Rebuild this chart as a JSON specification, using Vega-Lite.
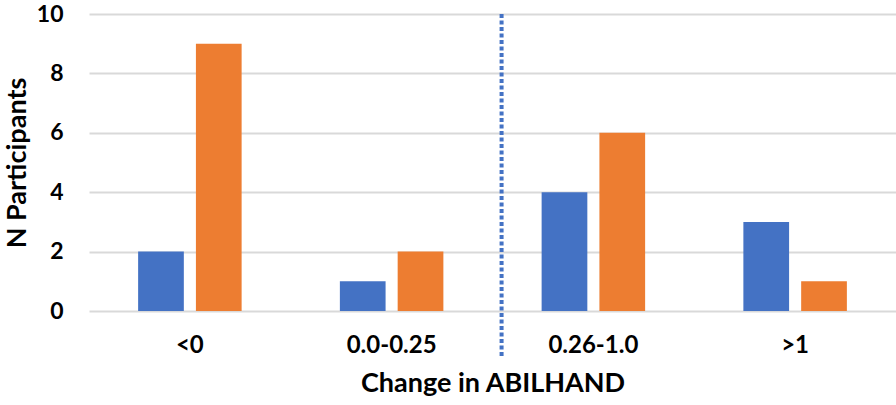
{
  "$schema": "https://vega.github.io/schema/vega-lite/v6.json",
  "autosize": "none",
  "width": 807,
  "height": 297,
  "padding": {"left": 89, "top": 14, "right": 0, "bottom": 94},
  "background": "white",
  "config": {
    "view": {"stroke": null},
    "font": "Lato",
    "axis": {"labelFont": "Lato", "titleFont": "Lato", "labelFontWeight": "bold", "titleFontWeight": "bold", "labelColor": "black", "titleColor": "black"}
  },
  "datasets": {
    "bars": [
      {"change": "<0", "group": "A", "n": 2},
      {"change": "<0", "group": "B", "n": 9},
      {"change": "0.0-0.25", "group": "A", "n": 1},
      {"change": "0.0-0.25", "group": "B", "n": 2},
      {"change": "0.26-1.0", "group": "A", "n": 4},
      {"change": "0.26-1.0", "group": "B", "n": 6},
      {"change": ">1", "group": "A", "n": 3},
      {"change": ">1", "group": "B", "n": 1}
    ],
    "divider": [
      {"change": "0.26-1.0", "top": 10, "bottom": -1.55}
    ]
  },
  "layer": [
    {
      "data": {"name": "bars"},
      "mark": {"type": "bar"},
      "encoding": {
        "x": {
          "field": "change", "type": "nominal",
          "scale": {"domain": ["<0", "0.0-0.25", "0.26-1.0", ">1"], "paddingInner": 0, "paddingOuter": 0},
          "axis": {
            "title": "Change in ABILHAND", "labelAngle": 0, "labelFontSize": 24, "titleFontSize": 27,
            "domain": false, "ticks": false, "labelPadding": 22, "titlePadding": 13
          }
        },
        "xOffset": {
          "field": "group", "type": "nominal",
          "scale": {"paddingInner": 0.209, "paddingOuter": 0.85}
        },
        "y": {
          "field": "n", "type": "quantitative",
          "scale": {"domain": [0, 10], "nice": false},
          "axis": {
            "title": "N Participants", "values": [0, 2, 4, 6, 8, 10], "labelFontSize": 23, "titleFontSize": 27,
            "domain": false, "ticks": false, "labelPadding": 26, "titlePadding": 5,
            "gridColor": "#D9D9D9", "gridWidth": 2
          }
        },
        "color": {
          "field": "group", "type": "nominal",
          "scale": {"domain": ["A", "B"], "range": ["#4472C4", "#ED7D31"]},
          "legend": null
        }
      }
    },
    {
      "data": {"name": "divider"},
      "mark": {"type": "rule", "color": "#4472C4", "strokeWidth": 4, "strokeDash": [4, 2.5]},
      "encoding": {
        "x": {"field": "change", "type": "nominal", "bandPosition": 0.045},
        "y": {"field": "top", "type": "quantitative"},
        "y2": {"field": "bottom"}
      }
    }
  ]
}
